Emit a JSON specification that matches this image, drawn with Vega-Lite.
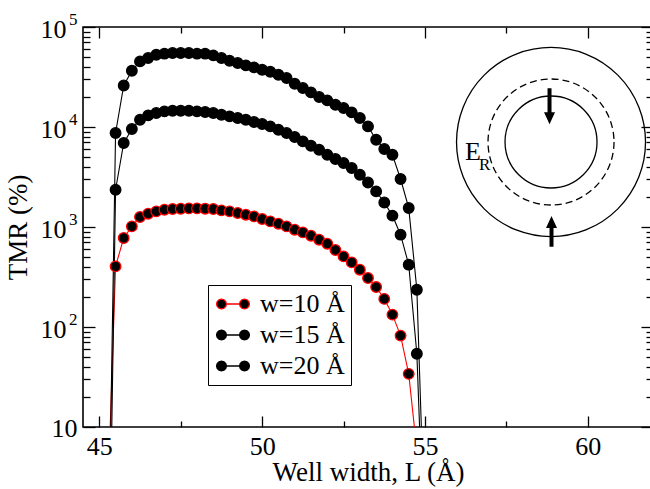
{
  "$schema": "https://vega.github.io/schema/vega-lite/v6.json",
  "width": 570,
  "height": 400,
  "autosize": "none",
  "padding": {"left": 83, "top": 27, "right": -3, "bottom": 62},
  "background": "white",
  "config": {
    "view": {"stroke": "black", "strokeWidth": 1.6},
    "font": "Liberation Serif",
    "axis": {
      "domain": false, "grid": false, "tickColor": "black", "tickWidth": 1.3,
      "labelColor": "black", "titleColor": "black",
      "labelFont": "Liberation Serif", "titleFont": "Liberation Serif",
      "labelFontSize": 26, "titleFontSize": 27, "titleFontWeight": "normal",
      "labelOverlap": false, "labelFlush": false, "labelBound": false
    }
  },
  "datasets": {
    "tmr": [
      {"s": "w=10 Å", "L": 45.25, "T": 1.5},
      {"s": "w=10 Å", "L": 45.5, "T": 404},
      {"s": "w=10 Å", "L": 45.75, "T": 776},
      {"s": "w=10 Å", "L": 46.0, "T": 1015},
      {"s": "w=10 Å", "L": 46.25, "T": 1259},
      {"s": "w=10 Å", "L": 46.5, "T": 1358},
      {"s": "w=10 Å", "L": 46.75, "T": 1432},
      {"s": "w=10 Å", "L": 47.0, "T": 1489},
      {"s": "w=10 Å", "L": 47.25, "T": 1514},
      {"s": "w=10 Å", "L": 47.5, "T": 1524},
      {"s": "w=10 Å", "L": 47.75, "T": 1535},
      {"s": "w=10 Å", "L": 48.0, "T": 1535},
      {"s": "w=10 Å", "L": 48.25, "T": 1524},
      {"s": "w=10 Å", "L": 48.5, "T": 1514},
      {"s": "w=10 Å", "L": 48.75, "T": 1466},
      {"s": "w=10 Å", "L": 49.0, "T": 1432},
      {"s": "w=10 Å", "L": 49.25, "T": 1380},
      {"s": "w=10 Å", "L": 49.5, "T": 1327},
      {"s": "w=10 Å", "L": 49.75, "T": 1276},
      {"s": "w=10 Å", "L": 50.0, "T": 1202},
      {"s": "w=10 Å", "L": 50.25, "T": 1138},
      {"s": "w=10 Å", "L": 50.5, "T": 1079},
      {"s": "w=10 Å", "L": 50.75, "T": 1014},
      {"s": "w=10 Å", "L": 51.0, "T": 940},
      {"s": "w=10 Å", "L": 51.25, "T": 883},
      {"s": "w=10 Å", "L": 51.5, "T": 818},
      {"s": "w=10 Å", "L": 51.75, "T": 746},
      {"s": "w=10 Å", "L": 52.0, "T": 681},
      {"s": "w=10 Å", "L": 52.25, "T": 589},
      {"s": "w=10 Å", "L": 52.5, "T": 508},
      {"s": "w=10 Å", "L": 52.75, "T": 443},
      {"s": "w=10 Å", "L": 53.0, "T": 374},
      {"s": "w=10 Å", "L": 53.25, "T": 309},
      {"s": "w=10 Å", "L": 53.5, "T": 251},
      {"s": "w=10 Å", "L": 53.75, "T": 191},
      {"s": "w=10 Å", "L": 54.0, "T": 133},
      {"s": "w=10 Å", "L": 54.25, "T": 82},
      {"s": "w=10 Å", "L": 54.5, "T": 34},
      {"s": "w=10 Å", "L": 54.75, "T": 5.9},

      {"s": "w=15 Å", "L": 45.25, "T": 0.018},
      {"s": "w=15 Å", "L": 45.5, "T": 2360},
      {"s": "w=15 Å", "L": 45.75, "T": 6920},
      {"s": "w=15 Å", "L": 46.0, "T": 9550},
      {"s": "w=15 Å", "L": 46.25, "T": 11830},
      {"s": "w=15 Å", "L": 46.5, "T": 13060},
      {"s": "w=15 Å", "L": 46.75, "T": 13800},
      {"s": "w=15 Å", "L": 47.0, "T": 14320},
      {"s": "w=15 Å", "L": 47.25, "T": 14550},
      {"s": "w=15 Å", "L": 47.5, "T": 14550},
      {"s": "w=15 Å", "L": 47.75, "T": 14550},
      {"s": "w=15 Å", "L": 48.0, "T": 14320},
      {"s": "w=15 Å", "L": 48.25, "T": 14130},
      {"s": "w=15 Å", "L": 48.5, "T": 13800},
      {"s": "w=15 Å", "L": 48.75, "T": 13270},
      {"s": "w=15 Å", "L": 49.0, "T": 12760},
      {"s": "w=15 Å", "L": 49.25, "T": 12300},
      {"s": "w=15 Å", "L": 49.5, "T": 11830},
      {"s": "w=15 Å", "L": 49.75, "T": 11220},
      {"s": "w=15 Å", "L": 50.0, "T": 10720},
      {"s": "w=15 Å", "L": 50.25, "T": 10140},
      {"s": "w=15 Å", "L": 50.5, "T": 9400},
      {"s": "w=15 Å", "L": 50.75, "T": 8710},
      {"s": "w=15 Å", "L": 51.0, "T": 7940},
      {"s": "w=15 Å", "L": 51.25, "T": 7180},
      {"s": "w=15 Å", "L": 51.5, "T": 6500},
      {"s": "w=15 Å", "L": 51.75, "T": 5930},
      {"s": "w=15 Å", "L": 52.0, "T": 5280},
      {"s": "w=15 Å", "L": 52.25, "T": 4790},
      {"s": "w=15 Å", "L": 52.5, "T": 4365},
      {"s": "w=15 Å", "L": 52.75, "T": 3890},
      {"s": "w=15 Å", "L": 53.0, "T": 3330},
      {"s": "w=15 Å", "L": 53.25, "T": 2790},
      {"s": "w=15 Å", "L": 53.5, "T": 2270},
      {"s": "w=15 Å", "L": 53.75, "T": 1760},
      {"s": "w=15 Å", "L": 54.0, "T": 1300},
      {"s": "w=15 Å", "L": 54.25, "T": 838},
      {"s": "w=15 Å", "L": 54.5, "T": 420},
      {"s": "w=15 Å", "L": 54.75, "T": 54},
      {"s": "w=15 Å", "L": 55.0, "T": 0.36},

      {"s": "w=20 Å", "L": 45.25, "T": 0.1},
      {"s": "w=20 Å", "L": 45.5, "T": 8710},
      {"s": "w=20 Å", "L": 45.75, "T": 26000},
      {"s": "w=20 Å", "L": 46.0, "T": 36500},
      {"s": "w=20 Å", "L": 46.25, "T": 45300},
      {"s": "w=20 Å", "L": 46.5, "T": 49000},
      {"s": "w=20 Å", "L": 46.75, "T": 52800},
      {"s": "w=20 Å", "L": 47.0, "T": 54100},
      {"s": "w=20 Å", "L": 47.25, "T": 55000},
      {"s": "w=20 Å", "L": 47.5, "T": 55000},
      {"s": "w=20 Å", "L": 47.75, "T": 55000},
      {"s": "w=20 Å", "L": 48.0, "T": 54100},
      {"s": "w=20 Å", "L": 48.25, "T": 54100},
      {"s": "w=20 Å", "L": 48.5, "T": 52000},
      {"s": "w=20 Å", "L": 48.75, "T": 49000},
      {"s": "w=20 Å", "L": 49.0, "T": 46000},
      {"s": "w=20 Å", "L": 49.25, "T": 43650},
      {"s": "w=20 Å", "L": 49.5, "T": 41300},
      {"s": "w=20 Å", "L": 49.75, "T": 39450},
      {"s": "w=20 Å", "L": 50.0, "T": 37400},
      {"s": "w=20 Å", "L": 50.25, "T": 35700},
      {"s": "w=20 Å", "L": 50.5, "T": 33300},
      {"s": "w=20 Å", "L": 50.75, "T": 30900},
      {"s": "w=20 Å", "L": 51.0, "T": 27100},
      {"s": "w=20 Å", "L": 51.25, "T": 24550},
      {"s": "w=20 Å", "L": 51.5, "T": 22180},
      {"s": "w=20 Å", "L": 51.75, "T": 19950},
      {"s": "w=20 Å", "L": 52.0, "T": 18450},
      {"s": "w=20 Å", "L": 52.25, "T": 16710},
      {"s": "w=20 Å", "L": 52.5, "T": 15490},
      {"s": "w=20 Å", "L": 52.75, "T": 14000},
      {"s": "w=20 Å", "L": 53.0, "T": 12300},
      {"s": "w=20 Å", "L": 53.25, "T": 10140},
      {"s": "w=20 Å", "L": 53.5, "T": 7460},
      {"s": "w=20 Å", "L": 53.75, "T": 6030},
      {"s": "w=20 Å", "L": 54.0, "T": 5280},
      {"s": "w=20 Å", "L": 54.25, "T": 3020},
      {"s": "w=20 Å", "L": 54.5, "T": 1550},
      {"s": "w=20 Å", "L": 54.75, "T": 236},
      {"s": "w=20 Å", "L": 55.0, "T": 0.76}
    ]
  },
  "resolve": {"axis": {"x": "independent", "y": "independent"}},
  "layer": [
    {
      "data": {"name": "tmr"},
      "mark": {"type": "line", "clip": true, "strokeWidth": 1.1},
      "encoding": {
        "x": {"field": "L", "type": "quantitative", "scale": {"domain": [44.5, 62], "nice": false, "zero": false},
          "axis": {"orient": "bottom", "values": [45, 50, 55, 60], "ticks": false, "labelPadding": 6, "title": "Well width, L (Å)", "titlePadding": 0}},
        "y": {"field": "T", "type": "quantitative", "scale": {"type": "log", "domain": [10, 100000], "nice": false},
          "axis": {"orient": "left", "values": [100, 1000, 10000, 100000], "ticks": false, "labelPadding": 17, "labelOffset": 2, "labelExpr": "'10'",
            "title": "TMR (%)", "titlePadding": 8}},
        "stroke": {"field": "s", "type": "nominal", "scale": {"domain": ["w=10 Å", "w=15 Å", "w=20 Å"], "range": ["#ff0000", "black", "black"]}},
        "detail": {"field": "s"}
      }
    },
    {
      "data": {"name": "tmr"},
      "mark": {"type": "point", "shape": "circle", "clip": true, "filled": true, "fill": "black", "size": 112, "strokeWidth": 1.3, "opacity": 1},
      "encoding": {
        "x": {"field": "L", "type": "quantitative", "scale": {"domain": [44.5, 62], "nice": false, "zero": false},
          "axis": {"orient": "bottom", "values": [45, 50, 55, 60], "labels": false, "tickSize": -11, "title": null}},
        "y": {"field": "T", "type": "quantitative", "scale": {"type": "log", "domain": [10, 100000], "nice": false},
          "axis": {"orient": "left", "values": [10, 100, 1000, 10000, 100000], "labels": false, "tickSize": -12, "title": null}},
        "stroke": {"field": "s", "type": "nominal", "scale": {"domain": ["w=10 Å", "w=15 Å", "w=20 Å"], "range": ["#ff0000", "black", "black"]},
          "legend": {
            "orient": "none", "legendX": 125, "legendY": 258, "title": null,
            "strokeColor": "black", "fillColor": "white", "padding": 6, "rowPadding": 5,
            "symbolSize": 529, "symbolStrokeWidth": 1.3, "symbolFillColor": "black", "symbolOffset": 6,
            "symbolType": "M -0.57 0 L -0.628 0.215 L -0.785 0.372 L -1 0.43 L -1.215 0.372 L -1.372 0.215 L -1.43 0 L -1.372 -0.215 L -1.215 -0.372 L -1 -0.43 L -0.785 -0.372 L -0.628 -0.215 Z M -0.57 0 L 0.57 0 M 1.43 0 L 1.372 0.215 L 1.215 0.372 L 1 0.43 L 0.785 0.372 L 0.628 0.215 L 0.57 0 L 0.628 -0.215 L 0.785 -0.372 L 1 -0.43 L 1.215 -0.372 L 1.372 -0.215 Z",
            "labelFont": "Liberation Serif", "labelFontSize": 26, "labelColor": "black", "labelOffset": 14,
            "encode": {"symbols": {"update": {
              "shape": {"value": "M -0.57 0 L -0.628 0.215 L -0.785 0.372 L -1 0.43 L -1.215 0.372 L -1.372 0.215 L -1.43 0 L -1.372 -0.215 L -1.215 -0.372 L -1 -0.43 L -0.785 -0.372 L -0.628 -0.215 Z M -0.57 0 L 0.57 0 M 1.43 0 L 1.372 0.215 L 1.215 0.372 L 1 0.43 L 0.785 0.372 L 0.628 0.215 L 0.57 0 L 0.628 -0.215 L 0.785 -0.372 L 1 -0.43 L 1.215 -0.372 L 1.372 -0.215 Z"},
              "fill": {"value": "black"}, "opacity": {"value": 1}, "strokeWidth": {"value": 1.3}, "size": {"value": 529}}}}
          }}
      }
    },
    {
      "data": {"name": "tmr"},
      "mark": {"type": "point", "opacity": 0},
      "encoding": {
        "x": {"field": "L", "type": "quantitative", "scale": {"domain": [44.5, 62], "nice": false, "zero": false},
          "axis": {"orient": "bottom", "values": [47.5, 52.5, 57.5], "labels": false, "tickSize": -6, "title": null}},
        "y": {"field": "T", "type": "quantitative", "scale": {"type": "log", "domain": [10, 100000], "nice": false},
          "axis": {"orient": "left", "values": [20, 30, 40, 50, 60, 70, 80, 90, 200, 300, 400, 500, 600, 700, 800, 900, 2000, 3000, 4000, 5000, 6000, 7000, 8000, 9000, 20000, 30000, 40000, 50000, 60000, 70000, 80000, 90000], "labels": false, "tickSize": -7, "title": null}}
      }
    },
    {
      "data": {"name": "tmr"},
      "mark": {"type": "point", "opacity": 0},
      "encoding": {
        "x": {"field": "L", "type": "quantitative", "scale": {"domain": [44.5, 62], "nice": false, "zero": false},
          "axis": {"orient": "top", "values": [45, 50, 55, 60], "labels": false, "tickSize": -11, "title": null}},
        "y": {"field": "T", "type": "quantitative", "scale": {"type": "log", "domain": [10, 100000], "nice": false},
          "axis": {"orient": "right", "values": [10, 100, 1000, 10000, 100000], "labels": false, "tickSize": -12, "title": null}}
      }
    },
    {
      "data": {"name": "tmr"},
      "mark": {"type": "point", "opacity": 0},
      "encoding": {
        "x": {"field": "L", "type": "quantitative", "scale": {"domain": [44.5, 62], "nice": false, "zero": false},
          "axis": {"orient": "top", "values": [47.5, 52.5, 57.5], "labels": false, "tickSize": -6, "title": null}},
        "y": {"field": "T", "type": "quantitative", "scale": {"type": "log", "domain": [10, 100000], "nice": false},
          "axis": {"orient": "right", "values": [20, 30, 40, 50, 60, 70, 80, 90, 200, 300, 400, 500, 600, 700, 800, 900, 2000, 3000, 4000, 5000, 6000, 7000, 8000, 9000, 20000, 30000, 40000, 50000, 60000, 70000, 80000, 90000], "labels": false, "tickSize": -7, "title": null}}
      }
    },
    {
      "data": {"name": "tmr"},
      "mark": {"type": "point", "opacity": 0},
      "encoding": {
        "x": {"field": "L", "type": "quantitative", "scale": {"domain": [44.5, 62], "nice": false, "zero": false}, "axis": null},
        "y": {"field": "T", "type": "quantitative", "scale": {"type": "log", "domain": [10, 100000], "nice": false},
          "axis": {"orient": "left", "values": [100, 1000, 10000, 100000], "ticks": false, "labelPadding": 6, "labelFontSize": 17, "labelOffset": -8,
            "labelExpr": "datum.value == 100 ? '2' : datum.value == 1000 ? '3' : datum.value == 10000 ? '4' : '5'", "title": null}}
      }
    },
    {
      "data": {"name": "tmr"},
      "mark": {"type": "point", "opacity": 0},
      "encoding": {
        "x": {"field": "L", "type": "quantitative", "scale": {"domain": [44.5, 62], "nice": false, "zero": false}, "axis": null},
        "y": {"field": "T", "type": "quantitative", "scale": {"type": "log", "domain": [10, 100000], "nice": false},
          "axis": {"orient": "left", "values": [10], "ticks": false, "labelPadding": 6, "labelOffset": 1, "labelExpr": "'10'", "title": null}}
      }
    },
    {
      "data": {"values": [{"ring": "outer"}]},
      "mark": {"type": "point", "shape": "circle", "filled": false, "stroke": "black", "strokeWidth": 1.3, "opacity": 1, "size": 35721},
      "encoding": {
        "x": {"datum": 58.869, "type": "quantitative", "axis": null},
        "y": {"datum": 7079, "type": "quantitative", "scale": {"type": "log"}, "axis": null}
      }
    },
    {
      "data": {"values": [{"ring": "dashed"}]},
      "mark": {"type": "point", "shape": "circle", "filled": false, "stroke": "black", "strokeWidth": 1.3, "opacity": 1, "size": 15876, "strokeDash": [7, 4]},
      "encoding": {
        "x": {"datum": 58.869, "type": "quantitative", "axis": null},
        "y": {"datum": 7079, "type": "quantitative", "scale": {"type": "log"}, "axis": null}
      }
    },
    {
      "data": {"values": [{"ring": "inner"}]},
      "mark": {"type": "point", "shape": "circle", "filled": false, "stroke": "black", "strokeWidth": 1.3, "opacity": 1, "size": 8464},
      "encoding": {
        "x": {"datum": 58.869, "type": "quantitative", "axis": null},
        "y": {"datum": 7079, "type": "quantitative", "scale": {"type": "log"}, "axis": null}
      }
    },
    {
      "data": {"values": [{"arrow": "down"}]},
      "mark": {"type": "point", "filled": true, "fill": "black", "strokeWidth": 0, "opacity": 1, "size": 1296,
        "shape": "M -0.111 -1 L 0.111 -1 L 0.111 0.333 L 0.306 0.333 L 0 1 L -0.306 0.333 L -0.111 0.333 Z"},
      "encoding": {
        "x": {"datum": 58.823, "type": "quantitative", "axis": null},
        "y": {"datum": 16144, "type": "quantitative", "scale": {"type": "log"}, "axis": null}
      }
    },
    {
      "data": {"values": [{"arrow": "up"}]},
      "mark": {"type": "point", "filled": true, "fill": "black", "strokeWidth": 0, "opacity": 1, "size": 942,
        "shape": "M -0.13 1 L 0.13 1 L 0.13 -0.218 L 0.358 -0.218 L 0 -1 L -0.358 -0.218 L -0.13 -0.218 Z"},
      "encoding": {
        "x": {"datum": 58.884, "type": "quantitative", "axis": null},
        "y": {"datum": 905, "type": "quantitative", "scale": {"type": "log"}, "axis": null}
      }
    },
    {
      "data": {"values": [{"label": "E"}]},
      "mark": {"type": "text", "font": "Liberation Serif", "fontSize": 26, "align": "left", "baseline": "alphabetic", "color": "black"},
      "encoding": {
        "text": {"field": "label"},
        "x": {"datum": 56.228, "type": "quantitative", "axis": null},
        "y": {"datum": 4677, "type": "quantitative", "scale": {"type": "log"}, "axis": null}
      }
    },
    {
      "data": {"values": [{"label": "R"}]},
      "mark": {"type": "text", "font": "Liberation Serif", "fontSize": 17, "align": "left", "baseline": "alphabetic", "color": "black"},
      "encoding": {
        "text": {"field": "label"},
        "x": {"datum": 56.658, "type": "quantitative", "axis": null},
        "y": {"datum": 3758, "type": "quantitative", "scale": {"type": "log"}, "axis": null}
      }
    }
  ]
}
